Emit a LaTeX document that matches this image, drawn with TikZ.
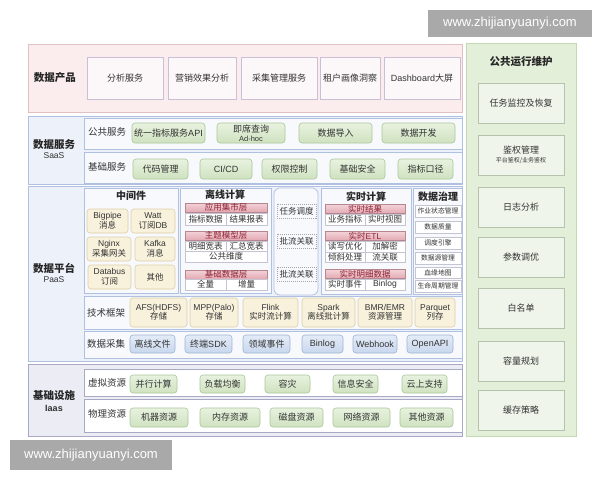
\documentclass[tikz,border=0pt]{standalone}
\usepackage{fontspec}
\setmainfont{Noto Sans CJK SC}
\newfontfamily\lat{Liberation Sans}
\definecolor{txt}{HTML}{333333}
\definecolor{pinkbg}{HTML}{FBEDED}
\definecolor{pinkbd}{HTML}{E2BFC2}
\definecolor{prodbox}{HTML}{FCF8FA}
\definecolor{prodbd}{HTML}{CBBFD8}
\definecolor{bluebg}{HTML}{EDF1FA}
\definecolor{bluebd}{HTML}{AFC0E0}
\definecolor{rowbg}{HTML}{F8F9FD}
\definecolor{greentop}{HTML}{E8F2DF}
\definecolor{greenbot}{HTML}{CFE2C0}
\definecolor{greenbd}{HTML}{A9C79A}
\definecolor{beige}{HTML}{F8F1DC}
\definecolor{beigebd}{HTML}{DCCFA6}
\definecolor{pinkbartop}{HTML}{F3D3D8}
\definecolor{pinkbarbot}{HTML}{E3A9B3}
\definecolor{pinkbartxt}{HTML}{8E2233}
\definecolor{bluepilltop}{HTML}{E3EBF7}
\definecolor{bluepillbot}{HTML}{C9D8EE}
\definecolor{bluepillbd}{HTML}{9EB3D2}
\definecolor{graybg}{HTML}{ECEDF4}
\definecolor{graybd}{HTML}{A9A9C6}
\definecolor{opsbg}{HTML}{E3EFD8}
\definecolor{opsbd}{HTML}{C3D9B3}
\definecolor{opsbox}{HTML}{EFF5EB}
\definecolor{opsboxbd}{HTML}{B5C3AE}
\definecolor{cellbd}{HTML}{C4C4D2}
\definecolor{wm}{HTML}{A9A9A9}
\newcommand\bx[7]{\node[#2,minimum width={#5-#3},minimum height={#6-#4}] (#1) at ({(#3+#5)/2},{(#4+#6)/2}) {#7};}
\tikzset{
  base/.style={inner sep=0.5pt,outer sep=0pt,align=center,text=txt,font=\fontsize{9}{10}\selectfont},
  sec/.style={base,draw,line width=0.8pt},
  secpink/.style={sec,fill=pinkbg,draw=pinkbd},
  secblue/.style={sec,fill=bluebg,draw=bluebd},
  secgray/.style={sec,fill=graybg,draw=graybd},
  secops/.style={sec,fill=opsbg,draw=opsbd},
  row/.style={base,draw=bluebd,fill=rowbg,line width=0.7pt},
  rowgray/.style={base,draw=graybd,fill=white,line width=0.7pt},
  prod/.style={base,draw=prodbd,fill=prodbox,line width=0.7pt,font=\fontsize{9}{10}\selectfont},
  pillg/.style={base,draw=greenbd,top color=greentop,bottom color=greenbot,rounded corners=3pt,line width=0.6pt},
  pillb/.style={base,draw=bluepillbd,top color=bluepilltop,bottom color=bluepillbot,rounded corners=3pt,line width=0.6pt},
  pilly/.style={base,draw=beigebd,fill=beige,rounded corners=3pt,line width=0.6pt,font=\fontsize{8.5}{9.5}\selectfont},
  panel/.style={base,draw=bluebd,fill=rowbg,line width=0.7pt},
  bar/.style={base,draw=pinkbarbot!80!black,top color=pinkbartop,bottom color=pinkbarbot,text=pinkbartxt,line width=0.4pt,font=\fontsize{8.5}{8.5}\selectfont},
  cell/.style={base,draw=cellbd,fill=white,line width=0.4pt,font=\fontsize{8.5}{8.5}\selectfont},
  sched/.style={base,draw=bluebd,fill=rowbg,rounded corners=6pt,line width=0.7pt},
  dcell/.style={base,draw=gray!70,dashed,dash pattern=on 1pt off 1pt,line width=0.4pt,font=\fontsize{8.5}{8.5}\selectfont},
  gcell/.style={base,draw=cellbd,fill=white,line width=0.4pt,font=\fontsize{6.8}{7}\selectfont},
  opsb/.style={base,draw=opsboxbd,fill=opsbox,line width=0.8pt,font=\fontsize{9}{11}\selectfont},
  title/.style={base,font=\bfseries\fontsize{10}{11}\selectfont,text=black!85},
  seclabel/.style={base,font=\bfseries\fontsize{10.5}{12}\selectfont,text=black!85},
  sublabel/.style={base,font=\lat\fontsize{8.5}{9}\selectfont},
  rowlabel/.style={base,font=\fontsize{9.5}{10}\selectfont},
  wmark/.style={base,fill=wm,text=white,font=\lat\fontsize{13}{14}\selectfont}
}
\begin{document}
\begin{tikzpicture}[x=1pt,y=-1pt]
\useasboundingbox[fill=white] (0,0) rectangle (600,480);
% watermarks
\bx{wmtop}{wmark}{428}{10}{592}{37}{www.zhijianyuanyi.com}
\bx{wmbot}{wmark}{10}{440}{172}{470}{www.zhijianyuanyi.com}
% ---------- data products
\bx{prodsec}{secpink}{28}{44}{462}{112}{}
\node[seclabel] (prodlab) at (55,78) {数据产品};
\bx{p1}{prod}{87}{57}{163}{99}{分析服务}
\bx{p2}{prod}{168}{57}{236}{99}{营销效果分析}
\bx{p3}{prod}{241}{57}{317}{99}{采集管理服务}
\bx{p4}{prod}{320}{57}{380}{99}{租户画像洞察}
\bx{p5}{prod}{384}{57}{460}{99}{{\lat Dashboard}大屏}
% ---------- data services
\bx{svcsec}{secblue}{28}{116}{462}{184}{}
\node[seclabel] (svclab) at (54,145) {数据服务};
\node[sublabel] (svcsub) at (54,156) {SaaS};
\bx{svcrow1}{row}{84}{118}{462}{149}{}
\bx{svcrow2}{row}{84}{152}{462}{183}{}
\node[rowlabel] (svcl1) at (107,132) {公共服务};
\node[rowlabel] (svcl2) at (107,167) {基础服务};
\bx{s1}{pillg}{132}{123}{205}{143}{统一指标服务{\lat API}}
\bx{s2}{pillg}{217}{123}{285}{143}{即席查询\\[-1.5pt]{\lat\fontsize{7.5}{7.5}\selectfont Ad-hoc}}
\bx{s3}{pillg}{299}{123}{372}{143}{数据导入}
\bx{s4}{pillg}{382}{123}{455}{143}{数据开发}
\bx{b1}{pillg}{133}{159}{188}{179}{代码管理}
\bx{b2}{pillg}{200}{159}{252}{179}{{\lat CI/CD}}
\bx{b3}{pillg}{262}{159}{317}{179}{权限控制}
\bx{b4}{pillg}{330}{159}{385}{179}{基础安全}
\bx{b5}{pillg}{398}{159}{453}{179}{指标口径}
% ---------- data platform
\bx{platsec}{secblue}{28}{186}{462}{361}{}
\node[seclabel] (platlab) at (54,268) {数据平台};
\node[sublabel] (platsub) at (54,280) {PaaS};
% middleware
\bx{midp}{panel}{84}{188}{178}{293}{}
\node[title] (midt) at (131,196) {中间件};
\bx{m1}{pilly}{87}{209}{128}{233}{{\lat Bigpipe}\\消息}
\bx{m2}{pilly}{131}{209}{175}{233}{{\lat Watt}\\订阅{\lat DB}}
\bx{m3}{pilly}{87}{237}{131}{261}{{\lat Nginx}\\采集网关}
\bx{m4}{pilly}{135}{237}{175}{261}{{\lat Kafka}\\消息}
\bx{m5}{pilly}{88}{265}{131}{289}{{\lat Databus}\\订阅}
\bx{m6}{pilly}{135}{265}{175}{289}{其他}
% offline
\bx{offp}{panel}{180}{188}{271}{293}{}
\node[title] (offt) at (225,195) {离线计算};
\bx{ob1}{bar}{185}{203}{267}{212}{应用集市层}
\bx{oc1}{cell}{185}{213}{226}{225}{指标数据}
\bx{oc2}{cell}{226}{213}{267}{225}{结果报表}
\bx{ob2}{bar}{185}{231}{267}{240}{主题模型层}
\bx{oc3}{cell}{185}{241}{226}{251}{明细宽表}
\bx{oc4}{cell}{226}{241}{267}{251}{汇总宽表}
\bx{oc5}{cell}{185}{251}{267}{262}{公共维度}
\bx{ob3}{bar}{185}{270}{267}{279}{基础数据层}
\bx{oc6}{cell}{185}{279}{226}{290}{全量}
\bx{oc7}{cell}{226}{279}{267}{290}{增量}
% scheduler
\bx{schp}{sched}{274}{188}{318}{295}{}
\bx{t1}{dcell}{277}{204}{316}{218}{任务调度}
\bx{t2}{dcell}{277}{234}{316}{248}{批流关联}
\bx{t3}{dcell}{277}{267}{316}{281}{批流关联}
% realtime
\bx{rtp}{panel}{321}{188}{411}{294}{}
\node[title] (rtt) at (366,197) {实时计算};
\bx{rb1}{bar}{325}{205}{405}{213}{实时结果}
\bx{rc1}{cell}{325}{214}{365}{225}{业务指标}
\bx{rc2}{cell}{365}{214}{405}{225}{实时视图}
\bx{rb2}{bar}{325}{232}{405}{240}{实时{\lat ETL}}
\bx{rc3}{cell}{325}{241}{365}{252}{读写优化}
\bx{rc4}{cell}{365}{241}{405}{252}{加解密}
\bx{rc5}{cell}{325}{252}{365}{262}{倾斜处理}
\bx{rc6}{cell}{365}{252}{405}{262}{流关联}
\bx{rb3}{bar}{325}{270}{405}{278}{实时明细数据}
\bx{rc7}{cell}{325}{279}{365}{290}{实时事件}
\bx{rc8}{cell}{365}{279}{405}{290}{{\lat Binlog}}
% governance
\bx{govp}{panel}{413}{188}{462}{294}{}
\node[title] (govt) at (438,197) {数据治理};
\bx{g1}{gcell}{415}{205}{461}{217}{作业状态管理}
\bx{g2}{gcell}{415}{221}{461}{233}{数据质量}
\bx{g3}{gcell}{415}{237}{461}{249}{调度引擎}
\bx{g4}{gcell}{415}{252}{461}{264}{数据源管理}
\bx{g5}{gcell}{415}{267}{461}{278}{血缘地图}
\bx{g6}{gcell}{415}{280}{461}{292}{生命周期管理}
% tech framework
\bx{techrow}{row}{84}{296}{462}{329}{}
\node[rowlabel] (techl) at (106,313) {技术框架};
\bx{k1}{pilly}{130}{298}{187}{327}{{\lat AFS(HDFS)}\\存储}
\bx{k2}{pilly}{190}{298}{238}{327}{{\lat MPP(Palo)}\\存储}
\bx{k3}{pilly}{243}{298}{298}{327}{{\lat Flink}\\实时流计算}
\bx{k4}{pilly}{302}{298}{355}{327}{{\lat Spark}\\离线批计算}
\bx{k5}{pilly}{358}{298}{412}{327}{{\lat BMR/EMR}\\资源管理}
\bx{k6}{pilly}{415}{298}{455}{327}{{\lat Parquet}\\列存}
% collection
\bx{collrow}{row}{84}{331}{462}{358}{}
\node[rowlabel] (colll) at (106,344) {数据采集};
\bx{d1}{pillb}{130}{335}{175}{353}{离线文件}
\bx{d2}{pillb}{185}{335}{232}{353}{终端{\lat SDK}}
\bx{d3}{pillb}{243}{335}{290}{353}{领域事件}
\bx{d4}{pillb}{302}{335}{343}{353}{{\lat Binlog}}
\bx{d5}{pillb}{353}{335}{397}{353}{{\lat Webhook}}
\bx{d6}{pillb}{407}{335}{453}{353}{{\lat OpenAPI}}
% ---------- infrastructure
\bx{infsec}{secgray}{28}{364}{462}{436}{}
\node[seclabel] (inflab) at (54,395) {基础设施};
\node[sublabel,font=\lat\bfseries\fontsize{9}{10}\selectfont] (infsub) at (54,408) {Iaas};
\bx{virtrow}{rowgray}{84}{369}{462}{396}{}
\bx{physrow}{rowgray}{84}{399}{462}{432}{}
\node[rowlabel] (virtl) at (107,383) {虚拟资源};
\node[rowlabel] (physl) at (107,414) {物理资源};
\bx{v1}{pillg}{130}{375}{177}{393}{并行计算}
\bx{v2}{pillg}{200}{375}{245}{393}{负载均衡}
\bx{v3}{pillg}{265}{375}{310}{393}{容灾}
\bx{v4}{pillg}{333}{375}{378}{393}{信息安全}
\bx{v5}{pillg}{402}{375}{447}{393}{云上支持}
\bx{h1}{pillg}{130}{408}{188}{427}{机器资源}
\bx{h2}{pillg}{200}{408}{260}{427}{内存资源}
\bx{h3}{pillg}{270}{408}{323}{427}{磁盘资源}
\bx{h4}{pillg}{333}{408}{390}{427}{网络资源}
\bx{h5}{pillg}{400}{408}{453}{427}{其他资源}
% ---------- ops
\bx{opssec}{secops}{466}{43}{576}{436}{}
\node[title,font=\bfseries\fontsize{10.5}{11}\selectfont] (opst) at (521,62) {公共运行维护};
\bx{o1}{opsb}{478}{83}{564}{123}{任务监控及恢复}
\bx{o2}{opsb}{478}{135}{564}{175}{鉴权管理\\[-2pt]{\fontsize{6}{7}\selectfont 平台鉴权/业务鉴权}}
\bx{o3}{opsb}{478}{187}{564}{227}{日志分析}
\bx{o4}{opsb}{478}{237}{564}{277}{参数调优}
\bx{o5}{opsb}{478}{288}{564}{328}{白名单}
\bx{o6}{opsb}{478}{341}{564}{381}{容量规划}
\bx{o7}{opsb}{478}{390}{564}{430}{缓存策略}
\end{tikzpicture}
\end{document}
